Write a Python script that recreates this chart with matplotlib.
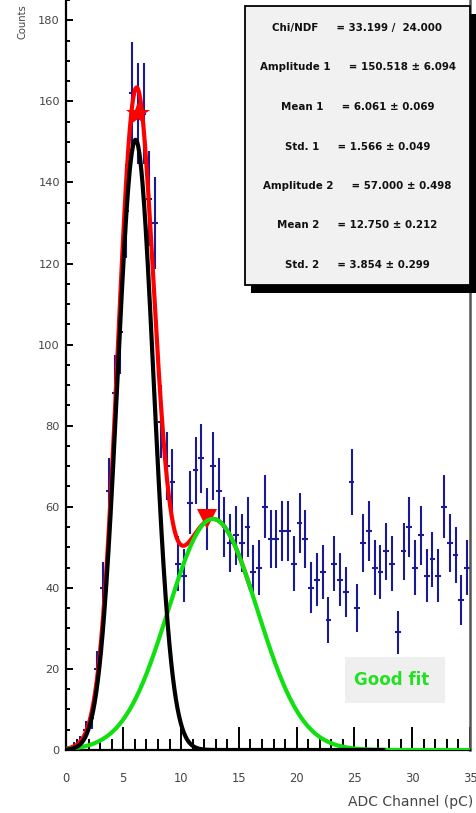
import numpy as np
import matplotlib
matplotlib.use("Agg")
import matplotlib.pyplot as plt
from matplotlib.patches import Rectangle
from matplotlib.ticker import MultipleLocator

# ADC spectrum: 70 bins of 0.5 pC starting at 0
bin_lo = 0.0
bin_width = 0.5
counts = [0, 1, 2, 5, 8, 20, 40, 64, 88, 103,
          133, 162, 157, 157, 136, 130, 81, 70, 66, 46,
          43, 61, 69, 72, 57, 70, 64, 55, 51, 53,
          51, 55, 44, 45, 60, 52, 52, 54, 54, 46,
          56, 52, 40, 42, 44, 32, 46, 42, 39, 66,
          35, 51, 54, 45, 44, 49, 46, 29, 49, 55,
          45, 53, 43, 47, 43, 60, 51, 48, 37, 45]

# Double-Gaussian fit results
fit_names = ["Chi/NDF", "Amplitude 1", "Mean 1", "Std. 1",
             "Amplitude 2", "Mean 2", "Std. 2"]
fit_values = [33.199, 150.518, 6.061, 1.566, 57.000, 12.750, 3.854]
fit_errors = [24.000, 6.094, 0.069, 0.049, 0.498, 0.212, 0.299]

# x ranges over which each curve is drawn
range_g1 = (0.0, 27.5)
range_g2 = (0.0, 35.0)
range_sum = (0.0, 16.0)

# bins flagged by the peak search
peak_bins = [12, 24]
peak_markers = ["*", "v"]

W, H = 476, 813
fig = plt.figure(figsize=(W / 100, H / 100), dpi=100)
fig.patch.set_facecolor("white")


def fx(px):
    return px / W


def fy(py):
    return 1 - py / H


ax = fig.add_axes([fx(65.5), fy(750), fx(470) - fx(65.5), fy(0) - fy(750)])

counts = np.asarray(counts, dtype=float)
centers = bin_lo + bin_width * (np.arange(len(counts)) + 0.5)
nz = counts > 0

blue = "#1a1a96"
ax.errorbar(centers[nz], counts[nz], xerr=bin_width / 2, yerr=np.sqrt(counts[nz]),
            fmt="none", ecolor=blue, elinewidth=1.5, capsize=0, zorder=2)


def gauss(x, a, m, s):
    return a * np.exp(-0.5 * ((x - m) / s) ** 2)


a1, m1, s1 = fit_values[1], fit_values[2], fit_values[3]
a2, m2, s2 = fit_values[4], fit_values[5], fit_values[6]

xs = np.linspace(*range_sum, 400)
ax.plot(xs, gauss(xs, a1, m1, s1) + gauss(xs, a2, m2, s2), color="red", lw=3.0, zorder=3)

for b, mk in zip(peak_bins, peak_markers):
    ax.plot(centers[b], counts[b], marker=mk, color="red",
            markersize=18 if mk == "*" else 14, markeredgewidth=0,
            linestyle="none", zorder=4)

xg2 = np.linspace(*range_g2, 600)
ax.plot(xg2, gauss(xg2, a2, m2, s2), color="#10e010", lw=3.0, zorder=5)
xg1 = np.linspace(*range_g1, 600)
ax.plot(xg1, gauss(xg1, a1, m1, s1), color="black", lw=3.0, zorder=6)

ax.set_xlim(0, 35)
ax.set_ylim(0, 185)
ax.xaxis.set_major_locator(MultipleLocator(5))
ax.xaxis.set_minor_locator(MultipleLocator(1))
ax.yaxis.set_major_locator(MultipleLocator(20))
ax.yaxis.set_minor_locator(MultipleLocator(5))

ax.tick_params(axis="x", which="major", direction="in", length=16.5, width=1.4,
               pad=15.5, labelsize=8.3, labelcolor="#444444", top=False)
ax.tick_params(axis="x", which="minor", direction="in", length=7.8, width=1.4, top=False)
ax.tick_params(axis="y", which="major", direction="in", length=5.0, width=1.4,
               pad=4, labelsize=8.2, labelcolor="#444444", right=False)
ax.tick_params(axis="y", which="minor", direction="in", length=3.0, width=1.4, right=False)

ax.spines["top"].set_visible(False)
for s in ("left", "bottom"):
    ax.spines[s].set_linewidth(1.6)
    ax.spines[s].set_color("black")
ax.spines["right"].set_linewidth(1.8)
ax.spines["right"].set_color("#555555")

fig.text(fx(22), fy(4), "Counts", rotation=90, ha="center", va="top",
         fontsize=7.2, color="#444444")
fig.text(fx(473), fy(802), "ADC Channel (pC)", ha="right", va="center",
         fontsize=10, color="#444444")

# fit statistics panel with drop shadow
bx0, bx1, by0, by1 = 245, 470, 6, 285
shadow = Rectangle((fx(bx0 + 6), fy(by1 + 8)), fx(bx1) - fx(bx0), fy(by0) - fy(by1),
                   transform=fig.transFigure, facecolor="black", edgecolor="none", zorder=10)
box = Rectangle((fx(bx0), fy(by1)), fx(bx1) - fx(bx0), fy(by0) - fy(by1),
                transform=fig.transFigure, facecolor="#f1f1f1", edgecolor="black",
                linewidth=1.3, zorder=11)
fig.patches.extend([shadow, box])

gap = "     "
for i, (nm, v, e) in enumerate(zip(fit_names, fit_values, fit_errors)):
    if i == 0:
        line = f"{nm}{gap}= {v:.3f} /  {e:.3f}"
    else:
        line = f"{nm}{gap}= {v:.3f} \u00b1 {e:.3f}"
    fig.text(fx((bx0 + bx1) / 2), fy(28 + 39.5 * i), line, ha="center", va="center",
             fontsize=7.4, fontweight="bold", color="#111111", zorder=12)

# fit quality tag
tag = Rectangle((fx(345), fy(703)), fx(445) - fx(345), fy(657) - fy(703),
                transform=fig.transFigure, facecolor="#efefef", edgecolor="none", zorder=10)
fig.patches.append(tag)
fig.text(fx(392), fy(680), "Good fit", ha="center", va="center", fontsize=12,
         fontweight="bold", color="#22e022", zorder=12)

fig.savefig("out.png", dpi=100)
